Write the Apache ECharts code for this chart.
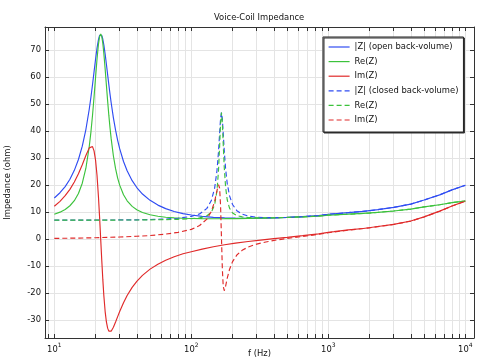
<!DOCTYPE html>
<html><head><meta charset="utf-8">
<script src="https://cdn.jsdelivr.net/npm/echarts@6/dist/echarts.min.js"></script>
<style>html,body{margin:0;padding:0;background:#fff}#c{width:500px;height:364px}</style>
</head><body><div id="c"></div>
<script>
// ---- data ----
const freqOpen = [10,11,12,13,14,15,16,17,18,18.5,19,19.5,20,20.5,21,21.4,21.8,22.2,22.6,23,23.5,24,24.5,25,25.5,26,27,28,29,30,32,34,37,40,44,50,57,65,75,87,100,120,145,175,210,260,320,400,500,650,850,1000,1100,1400,1800,2300,3000,4000,5000,6500,8000,10000];
const absZOpen = [15.22,17.16,19.43,22.16,25.45,29.47,34.43,40.59,48.20,52.55,57.19,61.98,66.64,70.78,73.94,75.48,76.0,75.50,74.06,71.91,68.54,64.78,60.94,57.22,53.74,50.51,44.92,40.34,36.59,33.49,28.75,25.30,21.64,19.08,16.68,14.33,12.57,11.27,10.21,9.42,8.89,8.38,8.03,7.82,7.72,7.71,7.74,7.84,8.01,8.29,8.71,9.19,9.37,9.79,10.26,10.89,11.74,12.95,14.46,16.37,18.22,19.91];
const reZOpen = [9.20,9.96,10.96,12.33,14.21,16.86,20.68,26.24,34.37,39.65,45.79,52.66,59.88,66.74,72.26,75.04,76.0,75.09,72.51,68.73,63.04,57.01,51.20,45.91,41.25,37.20,30.77,26.06,22.58,19.97,16.41,14.16,12.09,10.84,9.83,8.98,8.43,8.07,7.82,7.68,7.60,7.54,7.51,7.53,7.57,7.65,7.73,7.84,7.99,8.20,8.50,8.85,8.97,9.20,9.50,9.85,10.40,11.10,11.90,12.70,13.50,14.10];
const imZOpen = [12.13,13.97,16.05,18.41,21.11,24.17,27.53,30.97,33.79,34.49,34.27,32.69,29.24,23.56,15.66,8.11,0.04,-7.88,-15.07,-21.13,-26.90,-30.76,-33.05,-34.16,-34.44,-34.17,-32.72,-30.79,-28.79,-26.89,-23.60,-20.97,-17.95,-15.70,-13.48,-11.17,-9.33,-7.86,-6.56,-5.46,-4.71,-3.74,-2.86,-2.12,-1.51,-0.92,-0.43,0.12,0.61,1.23,1.90,2.48,2.72,3.36,3.89,4.65,5.44,6.68,8.21,10.33,12.24,14.05];

const freqClosed = [10,15,20,30,40,50,65,80,100,115,130,140,148,154,158,161,163.5,166,168.5,171,174,178,183,190,200,215,235,260,300,350,420,500,650,850,1000,1400,2000,3000,4000,5000,6500,8000,10000];
const absZClosed = [7.00,7.01,7.03,7.07,7.12,7.22,7.40,7.70,8.39,9.30,11.35,14.25,18.86,25.40,32.49,39.35,44.66,46.88,44.45,39.22,32.68,25.94,20.48,16.07,12.80,10.51,9.20,8.51,8.10,7.94,7.93,8.03,8.28,8.68,9.16,9.76,10.48,11.72,12.94,14.44,16.36,18.22,19.90];
const reZClosed = [7.00,7.00,7.01,7.03,7.05,7.10,7.17,7.29,7.54,7.85,8.61,9.93,12.68,17.94,25.47,34.56,42.91,46.88,43.02,35.08,26.46,19.17,14.46,11.45,9.68,8.67,8.19,7.98,7.88,7.87,7.92,8.03,8.22,8.51,8.86,9.20,9.62,10.40,11.10,11.90,12.70,13.50,14.10];
const imZClosed = [0.22,0.35,0.48,0.74,1.01,1.28,1.83,2.45,3.57,4.99,7.39,10.22,13.96,17.98,20.18,18.81,12.39,0.53,-11.18,-17.53,-19.18,-17.48,-14.51,-11.28,-8.37,-5.93,-4.19,-2.97,-1.88,-1.09,-0.35,0.21,0.97,1.72,2.34,3.27,4.15,5.40,6.65,8.18,10.31,12.23,14.04];

const seriesNames = ['|Z| (open back-volume)', 'Re(Z)', 'Im(Z)', '|Z| (closed back-volume)', 'Re(Z) ', 'Im(Z) '];
const xLabelValues = [10, 100, 1000, 10000];
const xTickValues = [9,10,20,30,40,50,60,70,80,90,100,200,300,400,500,600,700,800,900,1000,2000,3000,4000,5000,6000,7000,8000,9000,10000];
const yTickValues = [-30,-20,-10,0,10,20,30,40,50,60,70];
const titleText = 'Voice-Coil Impedance';
const xName = 'f (Hz)';
const yName = 'Impedance (ohm)';

// ---- styling ----
const FONT = 'DejaVu Sans';
const FS = 8.4;
const BLUE = '#2f4cf2', GREEN = '#3cc23c', RED = '#e02a2a';
const seriesColors = [BLUE, GREEN, RED, BLUE, GREEN, RED];
const seriesDashed = [false, false, false, true, true, true];
const GRIDC = '#e4e4e4', AXC = '#333';
const XMIN = 8.551, XMAX = 11574, YMIN = -36.7, YMAX = 78.6;

const pairs = (xs, ys) => xs.map((x, i) => [x, ys[i]]);
const dashOf = d => d ? [5, 3] : 'solid';

function mkSeries(i, xs, ys) {
  const color = seriesColors[i];
  return {
    name: seriesNames[i], type: 'line', xAxisIndex: 0, yAxisIndex: 0,
    data: pairs(xs, ys), symbol: 'none', showSymbol: false,
    lineStyle: { color, width: 1.15, type: dashOf(seriesDashed[i]) },
    itemStyle: { color }, emphasis: { disabled: true }, animation: false
  };
}

const axisLineStyle = { show: true, onZero: false, lineStyle: { color: AXC, width: 1 } };

const chart = echarts.init(document.getElementById('c'), null, { renderer: 'canvas' });
const option = {
  animation: false,
  backgroundColor: '#fff',
  textStyle: { fontFamily: FONT },
  title: {
    text: titleText, left: 214, top: 14, padding: 0,
    textStyle: { fontFamily: FONT, fontSize: FS, fontWeight: 'normal', color: '#111' }
  },
  grid: { left: 45, top: 27, width: 429, height: 311, containLabel: false, outerBoundsMode: 'none' },
  legend: {
    orient: 'vertical', left: 323, top: 37,
    padding: [5, 5, 7, 5],
    itemWidth: 21, itemHeight: 10, itemGap: 4.6,
    backgroundColor: '#fff', borderColor: '#222', borderWidth: 1,
    shadowColor: '#333', shadowBlur: 0, shadowOffsetX: 1, shadowOffsetY: 1,
    itemStyle: { color: 'rgba(0,0,0,0)', borderWidth: 0, opacity: 0 },
    textStyle: { fontFamily: FONT, fontSize: FS, color: '#111', lineHeight: 10 },
    data: seriesNames.map((name, i) => ({
      name,
      lineStyle: { color: seriesColors[i], width: 1.2, type: dashOf(seriesDashed[i]), opacity: 1 }
    })),
    selectedMode: false
  },
  xAxis: [
    {
      type: 'log', logBase: 10, min: XMIN, max: XMAX,
      name: xName, nameLocation: 'middle', nameGap: 12, nameMoveOverlap: false,
      nameTextStyle: { fontFamily: FONT, fontSize: FS, color: '#111' },
      axisLine: axisLineStyle,
      axisTick: { show: true, inside: true, length: 4, customValues: xTickValues, lineStyle: { color: AXC } },
      minorTick: { show: false },
      axisLabel: {
        show: true, margin: 4, customValues: xLabelValues, color: '#111',
        formatter: v => '{b|10}{s|' + Math.round(Math.log10(v)) + '}',
        rich: {
          b: { fontFamily: FONT, fontSize: FS, color: '#111', lineHeight: 12, verticalAlign: 'bottom' },
          s: { fontFamily: FONT, fontSize: 6, color: '#111', lineHeight: 12, verticalAlign: 'top' }
        }
      },
      splitLine: { show: true, lineStyle: { color: GRIDC, width: 1 } }
    },
    {
      type: 'log', logBase: 10, min: XMIN, max: XMAX, position: 'top',
      axisLine: axisLineStyle,
      axisTick: { show: true, inside: true, length: 4, customValues: xTickValues, lineStyle: { color: AXC } },
      axisLabel: { show: false },
      splitLine: { show: false }
    }
  ],
  yAxis: [
    {
      type: 'value', min: YMIN, max: YMAX,
      name: yName, nameLocation: 'middle', nameGap: 33, nameMoveOverlap: false,
      nameTextStyle: { fontFamily: FONT, fontSize: FS, color: '#111' },
      axisLine: axisLineStyle,
      axisTick: { show: true, inside: true, length: 4, customValues: yTickValues, lineStyle: { color: AXC } },
      axisLabel: { show: true, margin: 4, customValues: yTickValues, fontFamily: FONT, fontSize: FS, color: '#111' },
      splitLine: { show: true, lineStyle: { color: GRIDC, width: 1 } }
    },
    {
      type: 'value', min: YMIN, max: YMAX, position: 'right',
      axisLine: axisLineStyle,
      axisTick: { show: true, inside: true, length: 4, customValues: yTickValues, lineStyle: { color: AXC } },
      axisLabel: { show: false },
      splitLine: { show: false }
    }
  ],
  series: [
    mkSeries(0, freqOpen, absZOpen),
    mkSeries(1, freqOpen, reZOpen),
    mkSeries(2, freqOpen, imZOpen),
    mkSeries(3, freqClosed, absZClosed),
    mkSeries(4, freqClosed, reZClosed),
    mkSeries(5, freqClosed, imZClosed)
  ]
};
chart.setOption(option);
</script>
</body></html>
